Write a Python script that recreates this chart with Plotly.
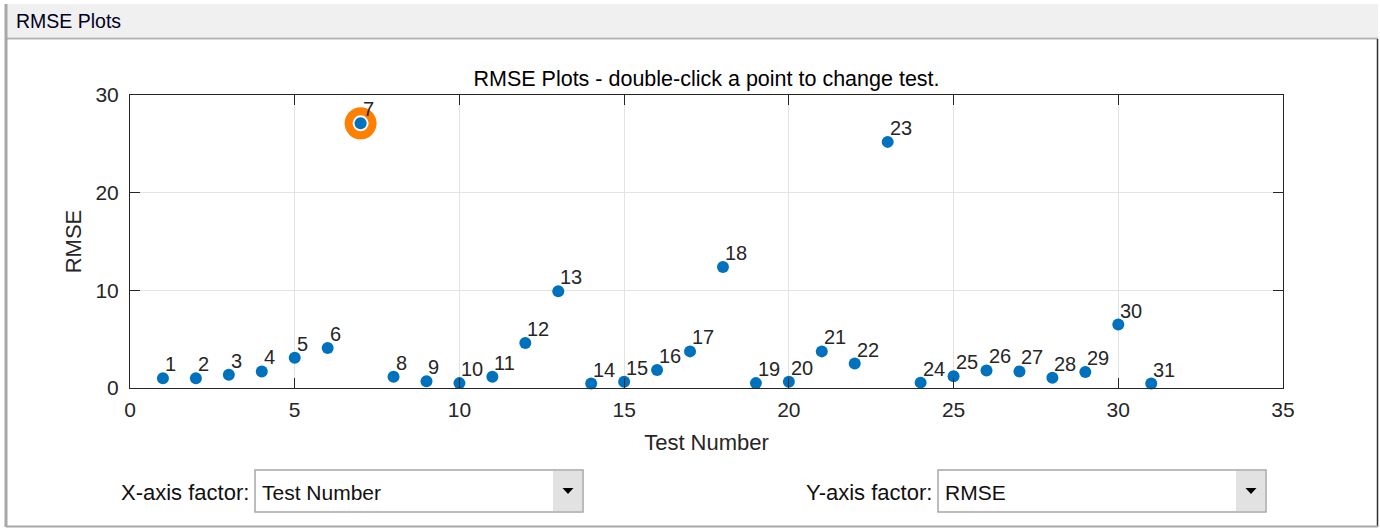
import plotly.graph_objects as go

# ---- data ----
test_number = list(range(1, 32))
rmse = [1.0, 1.0, 1.35, 1.7, 3.1, 4.1, 27.1, 1.15, 0.7, 0.5, 1.15, 4.6, 9.9, 0.45, 0.65,
        1.85, 3.75, 12.4, 0.5, 0.65, 3.75, 2.5, 25.2, 0.55, 1.2, 1.8, 1.7, 1.05, 1.65, 6.5, 0.45]
point_labels = [str(n) for n in test_number]
selected_test = 7
x_ticks = [0, 5, 10, 15, 20, 25, 30, 35]
y_ticks = [0, 10, 20, 30]

# ---- layout geometry (pixels) ----
W, H = 1380, 529
L, R, T, B = 130, 1283, 95, 388


def px(x):
    return (x - L) / (R - L)


def py(y):
    return (B - y) / (B - T)


FONT = "Liberation Sans, Arial, sans-serif"
AX = "#262626"
BLUE = "#0072BD"
ORANGE = "#FF8000"

fig = go.Figure()

sel_i = test_number.index(selected_test)
fig.add_trace(go.Scatter(x=[test_number[sel_i]], y=[rmse[sel_i]], mode="markers",
                         marker=dict(size=32, color=ORANGE, line=dict(width=0)),
                         cliponaxis=False, hoverinfo="skip", showlegend=False))
fig.add_trace(go.Scatter(x=[test_number[sel_i]], y=[rmse[sel_i]], mode="markers",
                         marker=dict(size=16, color="#f4f8fc", line=dict(width=0)),
                         cliponaxis=False, hoverinfo="skip", showlegend=False))
fig.add_trace(go.Scatter(x=test_number, y=rmse, mode="markers",
                         marker=dict(size=12, color=BLUE, line=dict(width=0)),
                         cliponaxis=False, showlegend=False))

annotations = []
for xv, yv, lab in zip(test_number, rmse, point_labels):
    annotations.append(dict(x=xv, y=yv, xref="x", yref="y", text=lab, showarrow=False,
                            xanchor="left", yanchor="bottom", xshift=0, yshift=1,
                            font=dict(family=FONT, size=20, color=AX)))

shapes = []
# outer panel
shapes.append(dict(type="rect", xref="paper", yref="paper", x0=px(5), x1=px(1378), y0=py(37), y1=py(4),
                   fillcolor="#f0f0f0", line=dict(width=0), layer="above"))
shapes.append(dict(type="line", xref="paper", yref="paper", x0=px(5), x1=px(1378), y0=py(38.5), y1=py(38.5),
                   line=dict(color="#b4b4b4", width=2)))
shapes.append(dict(type="line", xref="paper", yref="paper", x0=px(6), x1=px(6), y0=py(4), y1=py(527),
                   line=dict(color="#a8a8a8", width=3)))
shapes.append(dict(type="line", xref="paper", yref="paper", x0=px(1377.5), x1=px(1377.5), y0=py(39), y1=py(527),
                   line=dict(color="#303030", width=1.5)))
shapes.append(dict(type="line", xref="paper", yref="paper", x0=px(6), x1=px(1378), y0=py(526.5), y1=py(526.5),
                   line=dict(color="#a8a8a8", width=2)))


def dropdown(x0, x1, y0, y1):
    s = [dict(type="rect", xref="paper", yref="paper", x0=px(x0), x1=px(x1), y0=py(y1), y1=py(y0),
              fillcolor="white", line=dict(color="#a6a6a6", width=1.5)),
         dict(type="rect", xref="paper", yref="paper", x0=px(x1 - 30), x1=px(x1 - 1), y0=py(y1 - 1), y1=py(y0 + 1),
              fillcolor="#e2e2e2", line=dict(width=0))]
    cx, cy = x1 - 15, (y0 + y1) / 2
    path = f"M {px(cx - 5.5)} {py(cy - 3)} L {px(cx + 5.5)} {py(cy - 3)} L {px(cx)} {py(cy + 3)} Z"
    s.append(dict(type="path", xref="paper", yref="paper", path=path, fillcolor="black", line=dict(width=0)))
    return s


shapes += dropdown(255, 583, 470, 512)
shapes += dropdown(938, 1266, 470, 512)

ui_font = dict(family=FONT, size=22, color="#101010")
dd_font = dict(family=FONT, size=21, color="#101010")
annotations += [
    dict(x=px(14), y=py(21), xref="paper", yref="paper", text="RMSE Plots", showarrow=False,
         xanchor="left", yanchor="middle", font=dict(family=FONT, size=19.5, color="#000020")),
    dict(x=px(251), y=py(492), xref="paper", yref="paper", text="X-axis factor:", showarrow=False,
         xanchor="right", yanchor="middle", font=ui_font),
    dict(x=px(260), y=py(492), xref="paper", yref="paper", text="Test Number", showarrow=False,
         xanchor="left", yanchor="middle", font=dd_font),
    dict(x=px(934), y=py(492), xref="paper", yref="paper", text="Y-axis factor:", showarrow=False,
         xanchor="right", yanchor="middle", font=ui_font),
    dict(x=px(943), y=py(492), xref="paper", yref="paper", text="RMSE", showarrow=False,
         xanchor="left", yanchor="middle", font=dd_font),
]

axis_common = dict(showline=True, linecolor=AX, linewidth=1, mirror="ticks", ticks="inside",
                   ticklen=10, tickcolor=AX, tickwidth=1, showgrid=True, gridcolor="#e3e3e3",
                   gridwidth=1, zeroline=False, tickfont=dict(family=FONT, size=21, color=AX))

fig.update_layout(
    width=W, height=H, autosize=False,
    margin=dict(l=L, r=W - R, t=T, b=H - B, pad=0),
    paper_bgcolor="white", plot_bgcolor="white",
    title=dict(text="RMSE Plots - double-click a point to change test.", x=0.5, xref="paper",
               xanchor="center", y=1 - 78 / H, yanchor="middle", yref="container",
               font=dict(family=FONT, size=21.5, color="#000000")),
    xaxis=dict(range=[0, 35], tickvals=x_ticks, ticktext=[str(v) for v in x_ticks],
               ticklabelstandoff=3,
               title=dict(text="Test Number", standoff=14, font=dict(family=FONT, size=22, color=AX)),
               **axis_common),
    yaxis=dict(range=[0, 30], tickvals=y_ticks, ticktext=[str(v) for v in y_ticks],
               ticklabelstandoff=6,
               title=dict(text="RMSE", standoff=7, font=dict(family=FONT, size=22, color=AX)),
               **axis_common),
    shapes=shapes, annotations=annotations, showlegend=False,
)

fig.write_html("out.html", config={"displayModeBar": False},
               post_script="document.body.style.margin='0';document.body.style.padding='0';")
